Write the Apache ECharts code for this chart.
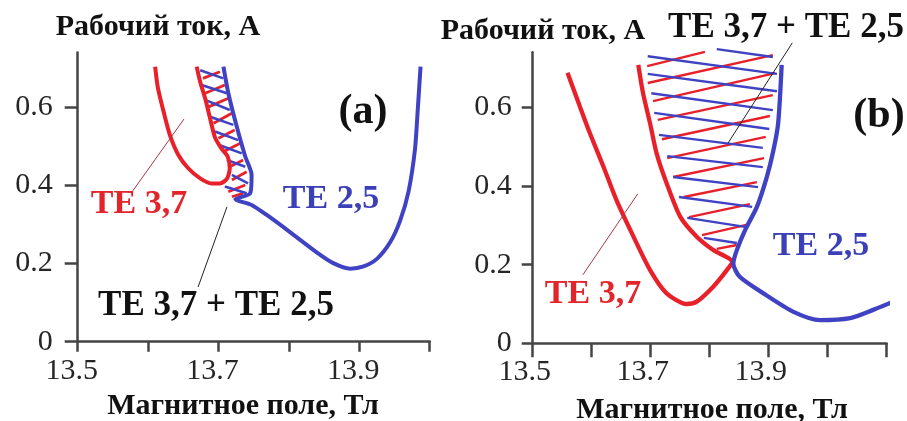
<!DOCTYPE html>
<html><head><meta charset="utf-8">
<script src="https://cdn.jsdelivr.net/npm/echarts@6/dist/echarts.min.js"></script>
<style>html,body{margin:0;padding:0;background:#fff}#c{width:907px;height:421px}</style>
</head><body><div id="c"></div>
<script>
// ---- data ----
const yTicks = [0, 0.2, 0.4, 0.6];
const xTicksA = [13.5, 13.6, 13.7, 13.8, 13.9, 14.0];
const xTicksB = [13.5, 13.6, 13.7, 13.8, 13.9, 14.0, 14.1];
const xLabels = [13.5, 13.7, 13.9];

// panel (a)
const redA = [[13.610,0.704],[13.614,0.649],[13.622,0.589],[13.631,0.529],[13.643,0.478],[13.657,0.444],[13.674,0.418],[13.690,0.405],[13.702,0.405],[13.712,0.417],[13.716,0.444],[13.713,0.474],[13.704,0.495],[13.695,0.523],[13.688,0.572],[13.681,0.623],[13.674,0.665],[13.669,0.704]];
const blueA = [[13.707,0.704],[13.714,0.636],[13.726,0.550],[13.738,0.474],[13.747,0.427],[13.745,0.380],[13.724,0.365],[13.747,0.350],[13.768,0.325],[13.802,0.280],[13.840,0.228],[13.863,0.201],[13.887,0.187],[13.905,0.192],[13.925,0.212],[13.944,0.255],[13.958,0.310],[13.970,0.385],[13.979,0.491],[13.983,0.593],[13.987,0.704]];
const hatchBlueA = [[13.674,0.695,13.707,0.674],[13.676,0.657,13.712,0.636],[13.681,0.619,13.716,0.593],[13.688,0.576,13.721,0.555],[13.695,0.538,13.728,0.516],[13.702,0.503,13.733,0.482],[13.712,0.465,13.738,0.448],[13.719,0.427,13.742,0.405],[13.709,0.397,13.740,0.380]];
const hatchRedA = [[13.678,0.674,13.702,0.691],[13.681,0.636,13.709,0.657],[13.686,0.601,13.714,0.623],[13.693,0.559,13.719,0.585],[13.700,0.521,13.723,0.542],[13.707,0.486,13.731,0.508],[13.716,0.448,13.735,0.465],[13.719,0.414,13.740,0.435],[13.714,0.384,13.738,0.401],[13.719,0.371,13.735,0.380]];
const leadersA = [[13.577,0.383,13.651,0.570],[13.671,0.140,13.712,0.345]];

// panel (b)
const redB = [[13.559,0.688],[13.580,0.602],[13.597,0.534],[13.620,0.449],[13.642,0.364],[13.668,0.280],[13.699,0.186],[13.727,0.127],[13.761,0.100],[13.778,0.106],[13.806,0.144],[13.829,0.186],[13.838,0.207],[13.806,0.237],[13.778,0.271],[13.750,0.322],[13.727,0.407],[13.710,0.483],[13.699,0.559],[13.687,0.636],[13.679,0.708]];
const blueB = [[13.922,0.708],[13.916,0.559],[13.908,0.491],[13.897,0.424],[13.880,0.347],[13.860,0.288],[13.846,0.237],[13.840,0.203],[13.851,0.169],[13.891,0.127],[13.942,0.080],[13.987,0.059],[14.038,0.064],[14.077,0.085],[14.111,0.106]];
const hatchRedB = [[13.694,0.705,13.792,0.741],[13.695,0.662,13.907,0.733],[13.704,0.616,13.911,0.687],[13.712,0.568,13.907,0.631],[13.719,0.519,13.902,0.578],[13.728,0.471,13.895,0.525],[13.738,0.423,13.892,0.471],[13.756,0.372,13.880,0.410],[13.765,0.321,13.868,0.354],[13.787,0.275,13.862,0.301],[13.812,0.240,13.846,0.250]];
const hatchBlueB = [[13.812,0.748,13.907,0.728],[13.695,0.730,13.914,0.685],[13.695,0.685,13.914,0.641],[13.701,0.636,13.907,0.593],[13.706,0.586,13.901,0.545],[13.714,0.530,13.890,0.497],[13.728,0.476,13.890,0.448],[13.738,0.423,13.882,0.397],[13.748,0.372,13.872,0.347],[13.762,0.319,13.860,0.296],[13.790,0.268,13.846,0.255]];
const leadersB = [[13.585,0.174,13.678,0.380],[13.940,0.764,13.831,0.509]];

// ---- styling ----
const RED = '#e8202a', BLUE = '#4042c4', AX = '#444';
const SERIF = 'Liberation Serif';

function seg(arr){ return arr.map(s => ({coords: [[s[0], s[1]], [s[2], s[3]]]})); }

function xAxis(grid, max, ticks, tickLen, pad){
  return {type:'value', gridIndex:grid, min:13.5, max:max,
    axisLine:{show:true, onZero:false, lineStyle:{color:AX, width:2.5}},
    axisTick:{show:true, customValues:ticks, length:tickLen, lineStyle:{color:AX, width:2.5}},
    axisLabel:{customValues:xLabels, margin:14, fontSize:30, fontFamily:SERIF, fontWeight:'normal', color:'#262626', padding:[0,pad,0,0]},
    splitLine:{show:false}};
}
function yAxis(grid, tickLen, margin){
  return {type:'value', gridIndex:grid, min:0, max:0.74,
    axisLine:{show:true, onZero:false, lineStyle:{color:AX, width:2.5}},
    axisTick:{show:true, customValues:yTicks, length:tickLen, lineStyle:{color:AX, width:2.5}},
    axisLabel:{customValues:yTicks, margin:margin, fontSize:30, fontFamily:SERIF, fontWeight:'normal', color:'#262626'},
    splitLine:{show:false}};
}
function txt(t, x, y, size, color){
  return {type:'text', x:x, y:y, silent:true,
    style:{text:t, font:'bold ' + size + 'px "Liberation Serif"', fill:color,
      align:'center', verticalAlign:'middle', textAlign:'center', textVerticalAlign:'middle'}};
}
function hatch(data, xi, color, w){
  return {type:'lines', coordinateSystem:'cartesian2d', xAxisIndex:xi, yAxisIndex:xi,
    data:seg(data), silent:true, clip:false, z:2,
    lineStyle:{color:color, width:w, opacity:1, curveness:0}};
}
function curve(data, xi, color, w){
  return {type:'line', xAxisIndex:xi, yAxisIndex:xi, data:data, showSymbol:false, symbol:'none',
    smooth:0.25, clip:false, z:3, silent:true, lineStyle:{color:color, width:w}};
}
function leader(data, xi, color){
  return {type:'lines', coordinateSystem:'cartesian2d', xAxisIndex:xi, yAxisIndex:xi,
    data:seg(data), silent:true, clip:false, z:4,
    lineStyle:{color:color, width:1, opacity:1}};
}

const chart = echarts.init(document.getElementById('c'), null, {renderer:'canvas'});
chart.setOption({
  animation:false,
  backgroundColor:'#fff',
  textStyle:{fontFamily:SERIF},
  grid:[
    {left:77.7, top:52.6, width:352, height:289.1, containLabel:false, outerBoundsMode:'none'},
    {left:532.7, top:52.3, width:354, height:291, containLabel:false, outerBoundsMode:'none'}
  ],
  xAxis:[xAxis(0, 14.0, xTicksA, 10, 12), xAxis(1, 14.1, xTicksB, 14, 16)],
  yAxis:[yAxis(0, 13, 25), yAxis(1, 11, 21)],
  series:[
    hatch(hatchRedA, 0, RED, 2.8), hatch(hatchBlueA, 0, BLUE, 2.6),
    curve(redA, 0, RED, 4), curve(blueA, 0, BLUE, 4),
    leader([leadersA[0]], 0, '#a8384a'), leader([leadersA[1]], 0, '#222'),
    hatch(hatchRedB, 1, RED, 2.4), hatch(hatchBlueB, 1, BLUE, 2.4),
    curve(redB, 1, RED, 4.3), curve(blueB, 1, BLUE, 4.3),
    leader([leadersB[0]], 1, '#a8384a'), leader([leadersB[1]], 1, '#222')
  ],
  graphic:[
    txt('Рабочий ток, А', 158, 27, 30, '#111'),
    txt('Рабочий ток, А', 543, 31, 30, '#111'),
    txt('Магнитное поле, Тл', 243, 406, 30, '#111'),
    txt('Магнитное поле, Тл', 712, 410, 30, '#111'),
    txt('(a)', 363, 112, 42, '#111'),
    txt('(b)', 879, 116, 42, '#111'),
    txt('TE 3,7', 139, 204, 34, '#e3242b'),
    txt('TE 2,5', 331, 199, 34, '#3c40b8'),
    txt('TE 3,7 + TE 2,5', 216, 306, 35, '#111'),
    txt('TE 3,7', 593, 294, 34, '#e3242b'),
    txt('TE 2,5', 821, 246, 34, '#3c40b8'),
    txt('TE 3,7 + TE 2,5', 786, 28, 35, '#111')
  ]
});
</script></body></html>
